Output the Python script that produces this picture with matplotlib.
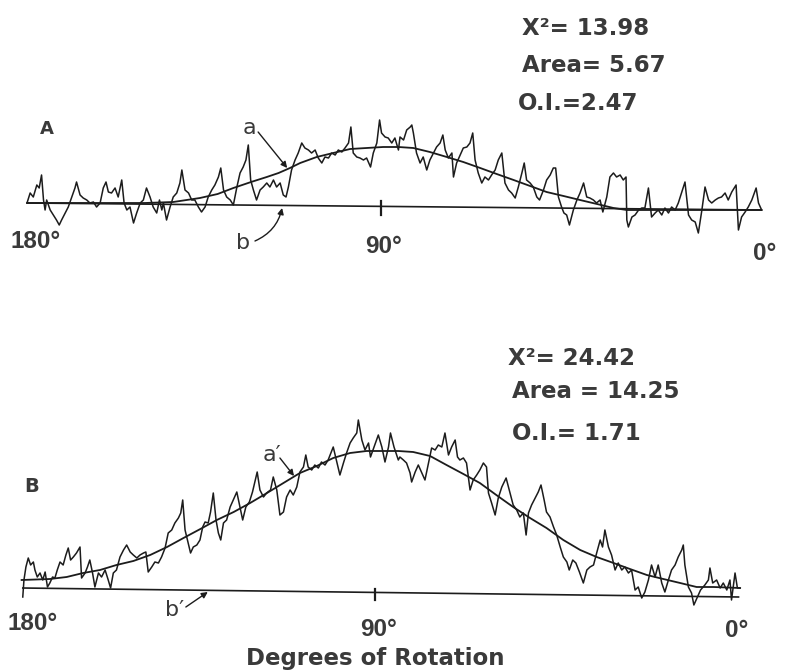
import matplotlib
matplotlib.use("Agg")
import matplotlib.pyplot as plt

# ---------------- Panel A data (angle in degrees, signal height) ----------------
a_trace_deg = [180.0, 179.2, 178.4, 177.5, 176.9, 176.3, 175.8, 175.4, 175.0, 174.1,
               173.3, 172.5, 171.8, 171.2, 170.3, 169.5, 168.6, 167.8, 167.4, 166.5,
               165.7, 164.8, 164.0, 163.1, 162.3, 161.4, 160.6, 159.9, 159.3, 158.5,
               157.6, 156.8, 155.9, 155.3, 154.6, 153.8, 152.9, 152.1, 151.2, 150.4,
               149.6, 148.7, 147.9, 147.0, 146.3, 145.7, 145.3, 144.5, 143.6, 142.8,
               141.9, 141.1, 140.6, 139.8, 138.9, 138.1, 137.3, 136.4, 135.6, 134.7,
               133.9, 133.0, 132.2, 131.3, 130.7, 130.0, 129.2, 128.3, 127.5, 126.6,
               125.8, 125.0, 124.3, 123.7, 123.1, 122.4, 121.6, 120.7, 119.9, 119.0,
               118.2, 117.3, 116.5, 115.6, 114.8, 114.1, 113.5, 112.7, 111.8, 111.0,
               110.1, 109.3, 108.4, 107.6, 106.7, 105.9, 105.0, 104.2, 103.3, 102.5,
               101.6, 100.8, 99.9, 99.1, 98.2, 97.6, 97.0, 96.1, 95.3, 94.4,
               93.6, 92.6, 91.9, 91.0, 90.3, 89.8, 88.9, 88.1, 87.2, 86.4,
               85.5, 85.1, 84.2, 83.4, 82.5, 82.1, 81.7, 80.9, 80.0, 79.2,
               78.3, 77.5, 76.6, 75.8, 74.9, 74.2, 73.6, 72.8, 71.9, 71.5,
               70.7, 69.8, 69.0, 68.1, 67.3, 66.6, 66.0, 65.2, 64.3, 63.5,
               62.6, 61.8, 60.9, 60.1, 59.2, 58.4, 57.5, 56.7, 55.8, 55.0,
               54.1, 53.5, 52.9, 52.0, 51.2, 50.3, 49.6, 48.6, 47.8, 46.9,
               46.1, 45.5, 44.8, 44.0, 43.4, 42.7, 42.0, 41.0, 40.1, 39.3,
               38.4, 37.6, 36.8, 35.9, 35.1, 34.2, 33.5, 32.5, 31.7, 30.8,
               30.0, 29.1, 28.3, 27.6, 27.4, 27.0, 26.1, 25.3, 24.4, 23.6,
               22.8, 21.9, 21.1, 20.2, 19.4, 18.5, 17.7, 16.8, 16.0, 15.1,
               14.3, 13.4, 12.6, 11.7, 10.9, 10.0, 9.2, 8.3, 7.5, 6.6,
               5.8, 4.9, 4.1, 3.3, 2.4, 1.6, 0.7, -0.4, -1.0, -1.8,
               -2.7, -3.5, -4.4, -5.5, -6.1, -6.9]
a_trace_val = [1, 11, 7, 19, 16, 29, 4, -6, 4, -6,
               -11, -16, -21, -16, -9, -3, 7, 16, 22, 9,
               6, 4, 1, 2, -3, 1, 16, 22, 12, 11,
               16, 7, 24, 1, -6, -3, -19, -9, 1, 4,
               16, 7, -3, -9, 4, -6, 1, -16, -3, 7,
               11, 21, 34, 14, 11, 4, 4, -3, -8, -3,
               7, 14, 19, 27, 36, 14, 7, 4, -1, 17,
               31, 37, 44, 59, 24, 14, 4, 14, 17, 21,
               17, 24, 17, 21, 9, 7, 17, 34, 44, 51,
               61, 56, 54, 51, 54, 46, 41, 47, 46, 51,
               49, 54, 52, 56, 61, 77, 51, 47, 46, 44,
               46, 37, 51, 61, 84, 71, 67, 66, 61, 66,
               54, 67, 64, 74, 77, 79, 71, 51, 41, 47,
               34, 44, 51, 57, 61, 69, 54, 46, 51, 27,
               41, 49, 56, 57, 61, 71, 44, 31, 21, 27,
               24, 29, 34, 44, 51, 21, 14, 11, 6, 17,
               31, 41, 24, 21, 17, 7, 4, 14, 24, 29,
               36, 36, 7, -3, -9, -11, -21, -6, 4, 11,
               21, 7, 6, 4, 1, 4, -8, 7, 27, 31,
               27, 29, 24, 27, -16, -23, -13, -11, -6, -4,
               -4, 16, -13, -9, -6, -11, -4, -9, -3, -6,
               1, 12, 22, -11, -16, -18, -29, -6, 17, 4,
               1, 4, 6, 7, 11, 4, 12, 19, -26, -13,
               -8, -3, 4, 16, 1, -6]

a_fit_deg = [180.0, 161.4, 150.0, 142.8, 136.0, 131.5, 127.5, 123.0, 119.0, 116.0,
             113.1, 110.5, 106.3, 102.1, 97.8, 93.6, 89.4, 85.5, 81.7, 77.5,
             73.2, 69.0, 64.7, 60.5, 56.2, 52.0, 47.8, 43.5, 39.3, 35.0,
             30.8, 27.4, -6.9]
a_fit_val = [1, 1, 1, 2, 6, 10, 16, 22, 27, 31,
             36, 41, 47, 51, 55, 56, 57, 57, 56, 52,
             47, 42, 36, 30, 24, 18, 12, 8, 4, 0,
             -4, -6, -6]

a_base_deg = [180.0, -7.0]
a_base_val = [1, -6]

# ---------------- Panel B data ----------------
b_trace_deg = [179.8, 179.5, 179.0, 178.4, 177.8, 177.1, 176.7, 176.1, 175.4, 174.7,
               174.1, 173.5, 172.9, 172.2, 171.6, 171.0, 170.3, 169.5, 168.8, 168.2,
               167.6, 166.9, 166.1, 165.2, 164.8, 163.9, 163.3, 162.7, 162.0, 161.4,
               160.5, 159.7, 158.8, 158.0, 157.4, 156.7, 155.9, 155.0, 154.1, 153.3,
               152.4, 151.6, 150.7, 149.9, 149.0, 148.4, 147.8, 146.9, 146.1, 145.2,
               144.4, 143.5, 142.7, 141.8, 141.0, 140.1, 139.5, 139.0, 138.4, 137.6,
               137.0, 136.3, 135.4, 134.6, 133.9, 133.3, 132.5, 131.9, 131.2, 130.5,
               129.9, 129.3, 128.6, 127.8, 126.9, 126.1, 125.2, 124.4, 123.7, 122.9,
               122.0, 121.2, 120.6, 120.0, 119.3, 118.4, 117.6, 116.6, 115.9, 115.0,
               114.2, 113.3, 112.5, 111.6, 110.8, 109.9, 109.1, 108.2, 107.6, 107.0,
               106.1, 105.3, 104.4, 103.6, 102.7, 101.9, 100.6, 99.7, 98.9, 98.0,
               97.2, 96.3, 95.5, 94.6, 94.2, 93.3, 92.5, 91.6, 91.1, 90.2,
               89.1, 88.2, 87.4, 86.5, 86.0, 85.1, 84.0, 83.6, 82.7, 81.9,
               81.0, 80.6, 79.7, 78.9, 78.0, 77.2, 76.3, 75.5, 74.6, 73.8,
               72.9, 72.1, 71.2, 70.4, 69.5, 68.9, 68.3, 67.4, 66.6, 65.7,
               64.9, 64.0, 63.2, 62.3, 61.5, 61.0, 60.2, 59.3, 58.5, 57.6,
               56.5, 55.5, 54.7, 53.8, 53.0, 52.1, 51.4, 50.8, 50.0, 49.1,
               48.3, 47.6, 46.8, 46.2, 45.3, 44.4, 43.6, 42.7, 41.9, 41.0,
               40.4, 39.5, 38.7, 37.8, 36.8, 35.9, 35.1, 34.2, 33.4, 32.5,
               31.9, 31.3, 30.4, 29.6, 28.7, 27.9, 27.0, 26.2, 25.3, 24.5,
               23.6, 22.8, 21.9, 21.1, 20.2, 19.4, 18.5, 17.7, 16.8, 16.0,
               15.1, 14.3, 13.4, 12.6, 11.7, 11.3, 10.9, 10.0, 9.2, 8.6,
               7.7, 6.9, 5.8, 4.9, 4.5, 3.8, 2.8, 1.9, 1.1, 0.2,
               -0.6, -1.0, -1.9, -2.5, -3.0]
b_trace_val = [-9, 8, 21, 30, 23, 26, 18, 11, 15, 8,
               16, 1, 5, 11, 10, 18, 26, 23, 33, 40,
               28, 31, 35, 41, 10, 15, 21, 28, 15, 1,
               15, 11, 18, 8, 0, 15, 18, 31, 38, 43,
               36, 33, 30, 33, 35, 36, 16, 21, 26, 25,
               31, 40, 55, 58, 65, 70, 75, 88, 58, 45,
               35, 41, 43, 48, 61, 66, 65, 76, 95, 68,
               55, 48, 65, 68, 81, 88, 96, 81, 68, 81,
               86, 96, 106, 116, 98, 91, 95, 98, 111, 98,
               73, 76, 91, 98, 93, 101, 116, 121, 133, 121,
               118, 123, 120, 126, 123, 128, 141, 126, 113, 125,
               135, 145, 150, 155, 168, 148, 138, 145, 131, 141,
               153, 141, 126, 141, 155, 141, 128, 131, 128, 125,
               115, 106, 116, 123, 115, 108, 125, 140, 138, 143,
               141, 155, 133, 141, 148, 131, 128, 130, 125, 98,
               108, 113, 118, 125, 121, 95, 85, 73, 90, 101,
               110, 95, 83, 78, 71, 75, 53, 75, 83, 90,
               96, 103, 88, 76, 71, 61, 53, 41, 31, 26,
               18, 28, 25, 16, 5, 18, 21, 23, 35, 48,
               41, 58, 41, 33, 18, 25, 18, 21, 15, 18,
               -2, 1, -10, -4, 8, 23, 11, 23, 5, -4,
               8, 18, 23, 31, 38, 43, 23, 1, -5, -17,
               -9, -2, 3, 8, 20, 5, 8, 0, 5, -2,
               8, -12, 15, 0, 0]

b_fit_deg = [180.1, 172.9, 168.6, 164.4, 160.1, 155.9, 151.6, 147.3, 143.0, 138.8,
             134.5, 130.3, 126.0, 121.8, 117.5, 113.3, 109.1, 104.8, 100.6, 96.3,
             92.1, 87.8, 84.0, 80.2, 75.9, 71.7, 67.4, 63.2, 59.0, 54.7,
             50.4, 46.2, 41.9, 37.6, 33.4, 29.1, 24.9, 20.6, 16.4, 12.1,
             7.9, 3.6, -3.2]
b_fit_val = [8, 9, 11, 15, 18, 23, 27, 33, 41, 50,
             59, 68, 76, 85, 95, 105, 115, 122, 130, 135,
             137, 137, 137, 136, 132, 123, 114, 105, 93, 81,
             70, 60, 48, 38, 31, 25, 19, 13, 9, 5,
             1, 1, 0]

b_base_deg = [180.0, -3.0]
b_base_val = [0, -9]

# ---------------- labels ----------------
panel_a_stats = ["X\u00b2= 13.98", "Area= 5.67", "O.I.=2.47"]
panel_b_stats = ["X\u00b2= 24.42", "Area = 14.25", "O.I.= 1.71"]
tick_labels = ["180\u00b0", "90\u00b0", "0\u00b0"]
x_title = "Degrees of Rotation"

INK = "#1c1c1c"
TXT = "#3a3a3a"

fig = plt.figure(figsize=(7.86, 6.71), dpi=100)
fig.patch.set_facecolor("white")

axA = fig.add_axes([0, 0, 1, 1])
axA.set_xlim(186.87, -13.1)
axA.set_ylim(-467, 204)
axA.axis("off")
axA.patch.set_alpha(0)

axB = fig.add_axes([0, 0, 1, 1])
axB.set_xlim(185.61, -14.9)
axB.set_ylim(-83, 588)
axB.axis("off")
axB.patch.set_alpha(0)

stat_font = dict(family="DejaVu Sans", fontweight="bold", fontsize=16.5, color=TXT)
tick_font = dict(family="Liberation Sans", fontweight="bold", fontsize=17.5, color=TXT)

# ---- Panel A ----
axA.plot(a_base_deg, a_base_val, color=INK, lw=1.2, solid_capstyle="butt")
axA.plot([90, 90], [3, -11], color=INK, lw=1.6)
axA.plot(a_fit_deg, a_fit_val, color=INK, lw=1.3)
axA.plot(a_trace_deg, a_trace_val, color=INK, lw=1.1)

axA.text(176.7, 70, "A", fontsize=13, fontweight="bold", color=TXT, ha="left", va="baseline")
for txt, x, y in zip(panel_a_stats, [54.0, 54.0, 55.1], [169, 132, 94]):
    axA.text(x, y, txt, ha="left", va="baseline", **stat_font)
for txt, x, y in zip(tick_labels, [184.3, 94.0, -4.7], [-44, -49, -56]):
    axA.text(x, y, txt, ha="left", va="baseline", **tick_font)

axA.text(123.3, 76, "a", fontsize=16, color=TXT, ha="center", va="center")
axA.annotate("", xy=(113.8, 36), xytext=(121.2, 72),
             arrowprops=dict(arrowstyle="-|>", color=INK, lw=1.0,
                             mutation_scale=9, shrinkA=0, shrinkB=0))
axA.text(125.0, -39, "b", fontsize=16, color=TXT, ha="center", va="center")
axA.annotate("", xy=(115.1, -4), xytext=(122.0, -37),
             arrowprops=dict(arrowstyle="-|>", color=INK, lw=1.0,
                             mutation_scale=9, shrinkA=0, shrinkB=0,
                             connectionstyle="arc3,rad=0.25"))

# ---- Panel B ----
axB.plot(b_base_deg, b_base_val, color=INK, lw=1.2, solid_capstyle="butt")
axB.plot([90, 90], [-1, -12], color=INK, lw=1.6)
axB.plot(b_fit_deg, b_fit_val, color=INK, lw=1.3)
axB.plot(b_trace_deg, b_trace_val, color=INK, lw=1.1)

axB.text(179.5, 96, "B", fontsize=14, fontweight="bold", color=TXT, ha="left", va="baseline")
for txt, x, y in zip(panel_b_stats, [56.0, 55.0, 55.0], [223, 190, 148]):
    axB.text(x, y, txt, ha="left", va="baseline", **stat_font)
for txt, x, y in zip(tick_labels, [183.8, 93.8, 0.7], [-42, -48, -49]):
    axB.text(x, y, txt, ha="left", va="baseline", **tick_font)
axB.text(90.0, -77, x_title, ha="center", va="baseline",
         family="DejaVu Sans", fontweight="bold", fontsize=16.5, color=TXT)

axB.text(116.2, 133, "a\u2032", fontsize=16, color=TXT, ha="center", va="center")
axB.annotate("", xy=(110.6, 112), xytext=(114.2, 130),
             arrowprops=dict(arrowstyle="-|>", color=INK, lw=1.0,
                             mutation_scale=9, shrinkA=0, shrinkB=0))
axB.text(141.0, -22, "b\u2032", fontsize=16, color=TXT, ha="center", va="center")
axB.annotate("", xy=(132.6, -4), xytext=(138.2, -19),
             arrowprops=dict(arrowstyle="-|>", color=INK, lw=1.0,
                             mutation_scale=9, shrinkA=0, shrinkB=0))

fig.savefig("out.png", dpi=100, facecolor="white")
